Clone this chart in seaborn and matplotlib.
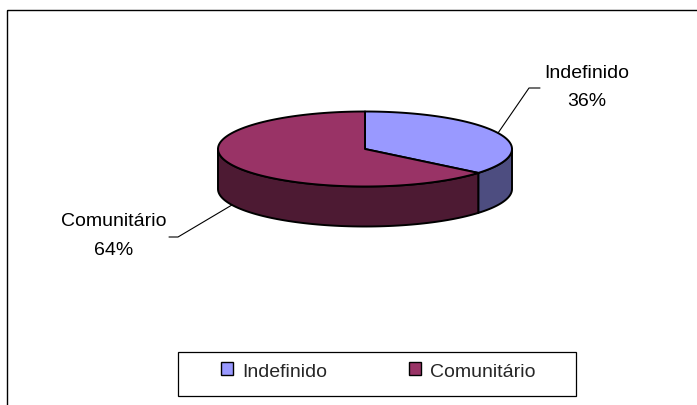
import numpy as np
import matplotlib.pyplot as plt
import matplotlib.patches as mpatches
import seaborn as sns

# data
labels = ["Indefinido", "Comunitário"]
shares = [36, 64]
top_colors = ["#9999FF", "#993366"]
side_colors = ["#4D4D80", "#4D1A33"]

sns.set_theme(style="white")
plt.rcParams["font.family"] = ["Liberation Sans", "DejaVu Sans"]

W, H = 697, 406
fig = plt.figure(figsize=(W / 100, H / 100), dpi=100)
ax = fig.add_axes([0, 0, 1, 1])
ax.set_xlim(0, W)
ax.set_ylim(H, 0)
ax.axis("off")

# pie geometry (pixel layout)
cx, cy, rx, ry, depth = 365, 150, 147, 37.5, 40
FS = 14


def pt(theta, dz=0.0):
    t = np.radians(theta)
    return cx + rx * np.cos(t), cy - ry * np.sin(t) + dz


fracs = np.array(shares) / sum(shares)
ends = 90 - 360 * np.cumsum(fracs)
starts = np.r_[90, ends[:-1]]

# side walls (front half only)
for i in range(len(labels)):
    lo, hi = max(ends[i], -180), min(starts[i], 0)
    if lo < hi:
        th = np.linspace(lo, hi, 80)
        x1, y1 = pt(th)
        x2, y2 = pt(th[::-1], depth)
        poly = np.column_stack([np.r_[x1, x2], np.r_[y1, y2]])
        ax.add_patch(mpatches.Polygon(poly, closed=True, facecolor=side_colors[i],
                                      edgecolor="black", lw=1.4, joinstyle="round"))

# top faces
for i in range(len(labels)):
    th = np.linspace(ends[i], starts[i], 200)
    x, y = pt(th)
    poly = np.column_stack([np.r_[cx, x], np.r_[cy, y]])
    ax.add_patch(mpatches.Polygon(poly, closed=True, facecolor=top_colors[i],
                                  edgecolor="black", lw=1.4, joinstyle="round"))

# labels with leader lines
label_pos = {"Indefinido": (587, 87.5, 540, 529), "Comunitário": (114, 236.5, 169, 178)}
for i, lab in enumerate(labels):
    mid = (starts[i] + ends[i]) / 2
    dz = depth if np.sin(np.radians(mid)) < 0 else 0
    ax_, ay_ = pt(mid, dz)
    tx, ty, tick_out, tick_in = label_pos[lab]
    ax.plot([ax_, tick_in, tick_out], [ay_, ty + 1.5, ty + 1.5], color="black", lw=0.8)
    ax.text(tx, ty - 14.5, lab, ha="center", va="center", fontsize=FS, color="black")
    ax.text(tx, ty + 14.5, f"{shares[i]}%", ha="center", va="center", fontsize=FS, color="black")

# legend
handles = [mpatches.Patch(facecolor=c, edgecolor="black", lw=1.0) for c in top_colors]
ax.legend(handles, labels, ncol=2, loc="center", bbox_to_anchor=(378, 372),
          bbox_transform=ax.transData, frameon=False, fontsize=FS,
          handlelength=0.65, handleheight=0.65, handletextpad=0.45, columnspacing=4.2)
ax.add_patch(mpatches.Rectangle((178, 353), 398, 44, fill=False, edgecolor="black", lw=0.9))

# outer chart frame
ax.add_patch(mpatches.Rectangle((7, 11), W + 20, H + 20, fill=False, edgecolor="black", lw=1.0))

fig.savefig("out.png", dpi=100)
